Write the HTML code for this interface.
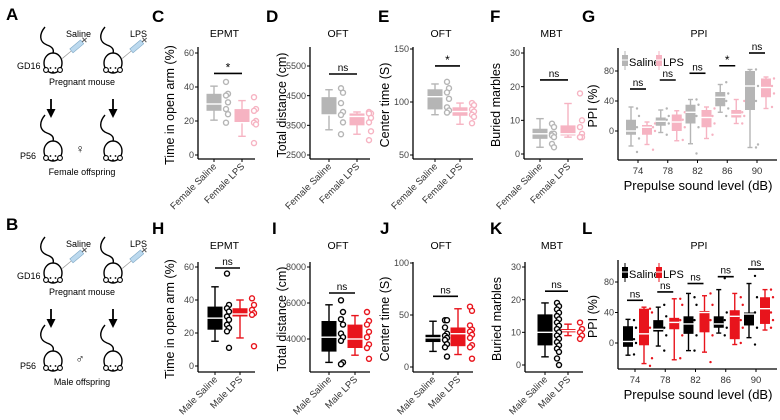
<!DOCTYPE html>
<html><head><meta charset="utf-8"><style>
body{margin:0;background:#fff;width:780px;height:420px;overflow:hidden}
svg{display:block;font-family:"Liberation Sans",sans-serif}
</style></head><body>
<svg id="fig" width="780" height="420" viewBox="0 0 780 420"></svg>
<script>
// ---- data arrays (stats = [min,q1,median,q3,max]) ----
const cSalStats=[20.5,26,30,36,40.5], cSalPts=[43,36,35,31,27,24,19];
const cLpsStats=[11,19,19,27,32], cLpsPts=[34,27,26,20,19,18,7];
const dSalStats=[3350,3850,3850,4450,4700], dSalPts=[4750,4600,4250,3950,3850,3600,3200];
const dLpsStats=[3200,3500,3800,3900,3950], dLpsPts=[3950,3900,3900,3750,3600,3300,3000];
const eSalStats=[88,93,105,112,117], eSalPts=[119,113,109,103,95,92,90];
const eLpsStats=[79,87,91,95,99], eLpsPts=[99,97,93,91,88,86,80];
const fSalStats=[2,4.5,6,7.5,10.5], fSalPts=[9,8,6,6,5.5,5,3,2];
const fLpsStats=[5,5.5,6,8.5,15], fLpsPts=[18,10,8,6,5,5,5];
const hSalStats=[15,22,29,36,48], hSalPts=[56,37,35,33,30,28,25,23,21,11];
const hLpsStats=[17,30,31.5,35,40], hLpsPts=[41,37,34,32,31,12];
const iSalStats=[2700,3300,4100,5000,5900], iSalPts=[6150,5500,5100,4800,4300,4100,3900,2700,2600];
const iLpsStats=[3100,3500,4000,4800,5300], iLpsPts=[5500,5000,4800,4400,4100,3700,3500,2900];
const jSalStats=[15,24,28,31,44], jSalPts=[45,45,38,32,30,28,26,22,19,10];
const jLpsStats=[12,20,32,38,56], jLpsPts=[58,54,40,36,34,31,28,21,19,8];
const kSalStats=[2.5,6,10,15.5,19], kSalPts=[19,18,17,16,15,14,13,12,11,10,9,8,7,6,5,4,2,0];
const kLpsStats=[9,10,10.5,11,12.5], kLpsPts=[13,11,10,9,8];
const pulseLevels=["74","78","82","86","90"];
const gSalStats=[[-20,-5,0,15,32],[-2,7,13,18,28],[-17,10,25,35,42],[25,33,45,52,62],[-22,28,60,80,82]];
const gLpsStats=[[-18,-5,5,8,12],[-13,0,12,22,27],[-10,5,18,28,32],[10,18,22,28,42],[30,45,58,70,72]];
const gSalPts=[[-28,-10,5,20,30],[-5,10,15,20,30],[-30,5,20,35,42],[20,30,40,50,65],[-22,-18,40,60,82]];
const gLpsPts=[[-25,0,5,10],[-12,5,15,25],[-5,10,20,30],[10,20,25,40],[32,50,60,70]];
const gSig=[56,68,77,87,104], gSigLbl=["ns","ns","ns","*","ns"];
const lSalStats=[[-16,-5,2,22,31],[-4,15,18,30,47],[-10,12,25,35,65],[13,20,25,35,70],[7,23,38,40,78]];
const lLpsStats=[[-27,-3,12,45,47],[-22,18,27,33,58],[-12,14,40,42,62],[-2,5,35,43,65],[17,25,45,60,70]];
const lSalPts=[[-15,0,5,20,30],[-10,10,20,35,50],[-10,10,30,50,60],[10,20,30,40,85],[-2,20,40,60,88]];
const lLpsPts=[[-30,-20,20,40,45],[-20,10,30,50,58],[-25,10,30,50,65],[0,20,30,50,60],[20,30,40,60,70]];
const lSig=[56,67,78,87,97], lSigLbl=["ns","ns","ns","ns","ns"];

const NS="http://www.w3.org/2000/svg", svg=document.getElementById('fig');
function el(t,a,p){const e=document.createElementNS(NS,t);for(const k in a)e.setAttribute(k,a[k]);(p||svg).appendChild(e);return e;}
function txt(s,a,p){const e=el('text',a,p);e.textContent=s;return e;}
function scale(p0,v0,p1,v1){return v=>p0+(v-v0)*(p1-p0)/(v1-v0);}

function box(g,cx,w,s,col,y,name){
  const b=el('g',{},g);
  
  
  el('line',{x1:cx,x2:cx,y1:y(s[0]),y2:y(s[4]),stroke:col,'stroke-width':1.4},b);
  el('line',{x1:cx-w/4,x2:cx+w/4,y1:y(s[0]),y2:y(s[0]),stroke:col,'stroke-width':1.4},b);
  el('line',{x1:cx-w/4,x2:cx+w/4,y1:y(s[4]),y2:y(s[4]),stroke:col,'stroke-width':1.4},b);
  el('rect',{x:cx-w/2,y:y(s[3]),width:w,height:Math.max(1.5,y(s[1])-y(s[3])),fill:col},b);
  el('line',{x1:cx-w/2,x2:cx+w/2,y1:y(s[2]),y2:y(s[2]),stroke:'#fff','stroke-width':1.4},b);
}
function pts(g,cx,arr,col,y,r,filled,name){
  arr.forEach((v,i)=>{const c=el('circle',{cx:cx+((i%2)?2:0),cy:y(v),r:r,fill:filled?col:'#fff',stroke:col,'stroke-width':filled?0:1.4},g);
    
    });
}
function axes(g,ax,right,bottom,top,ticks,y){
  el('line',{x1:ax,x2:ax,y1:top,y2:bottom,stroke:'#000','stroke-width':1.3},g);
  el('line',{x1:ax,x2:right,y1:bottom,y2:bottom,stroke:'#000','stroke-width':1.3},g);
  ticks.forEach(t=>{el('line',{x1:ax-3,x2:ax,y1:y(t),y2:y(t),stroke:'#000'},g);
    const l=txt(String(t),{x:ax-4,y:y(t)+3.2,'font-size':9,'text-anchor':'end',fill:'#444'},g);
    
    });
}
function sig(g,x1,x2,yy,lbl){
  el('line',{x1:x1,x2:x2,y1:yy,y2:yy,stroke:'#000','stroke-width':1.6},g);
  txt(lbl,{x:(x1+x2)/2,y:yy-(lbl=='*'?2:3),'font-size':lbl=='*'?12:10,'text-anchor':'middle'},g);
}
function twoPanel(c){
  const g=el('g',{});
  
  
  const y=scale(c.p0,c.v0,c.p1,c.v1);
  txt(c.letter,{x:c.lx,y:c.ly,'font-size':17,'font-weight':'bold'},g);
  txt(c.title,{x:(c.ax+c.right)/2-2,y:c.ly+15,'font-size':10.5,'text-anchor':'middle'},g);
  const yt=txt(c.ytitle,{x:0,y:0,'font-size':12.5,'text-anchor':'middle',transform:`translate(${c.ax-24},${(c.top+c.bottom)/2+2}) rotate(-90)`},g);
  
  
  axes(g,c.ax,c.right,c.bottom,c.top,c.ticks,y);
  box(g,c.x1,15,c.s1,c.c1,y,'box-saline');
  box(g,c.x2,15,c.s2,c.c2,y,'box-lps');
  pts(g,c.x1+12,c.p1s,c.c1,y,2.5,false,'point-saline');
  pts(g,c.x2+12,c.p2s,c.c2,y,2.5,false,'point-lps');
  [[c.x1,c.n1],[c.x2,c.n2]].forEach(([x,n])=>{
    el('line',{x1:x,x2:x,y1:c.bottom,y2:c.bottom+3,stroke:'#000'},g);
    const l=txt(n,{x:0,y:0,'font-size':9.5,'text-anchor':'end',fill:'#333',transform:`translate(${x+3},${c.bottom+8}) rotate(-45)`},g);
    
    
  });
  sig(g,c.x1,c.x2,y(c.sv),c.sl);
}
const FS='#b5b5b5',FL='#f6b3c2',MS='#000',ML='#e8141c';
const top1={bottom:159,top:47},bot1={bottom:372,top:262};
twoPanel({name:'panel-c',letter:'C',lx:152,ly:22,title:'EPMT',ytitle:'Time in open arm (%)',ax:198,right:255,...top1,p0:155,v0:0,p1:53,v1:60,ticks:[0,20,40,60],x1:214,x2:242,s1:cSalStats,s2:cLpsStats,p1s:cSalPts,p2s:cLpsPts,c1:FS,c2:FL,n1:'Female Saline',n2:'Female LPS',sv:48,sl:'*'});
twoPanel({name:'panel-d',letter:'D',lx:266,ly:22,title:'OFT',ytitle:'Total distance (cm)',ax:310,right:370,...top1,p0:155,v0:2500,p1:66,v1:5500,ticks:[2500,3500,4500,5500],x1:329,x2:357,s1:dSalStats,s2:dLpsStats,p1s:dSalPts,p2s:dLpsPts,c1:FS,c2:FL,n1:'Female Saline',n2:'Female LPS',sv:5230,sl:'ns'});
twoPanel({name:'panel-e',letter:'E',lx:378,ly:22,title:'OFT',ytitle:'Center time (S)',ax:413,right:473,...top1,p0:155,v0:50,p1:49,v1:150,ticks:[50,100,150],x1:435,x2:460,s1:eSalStats,s2:eLpsStats,p1s:eSalPts,p2s:eLpsPts,c1:FS,c2:FL,n1:'Female Saline',n2:'Female LPS',sv:134,sl:'*'});
twoPanel({name:'panel-f',letter:'F',lx:490,ly:22,title:'MBT',ytitle:'Buried marbles',ax:524,right:583,...top1,p0:154,v0:0,p1:53,v1:30,ticks:[0,10,20,30],x1:540,x2:568,s1:fSalStats,s2:fLpsStats,p1s:fSalPts,p2s:fLpsPts,c1:FS,c2:FL,n1:'Female Saline',n2:'Female LPS',sv:22,sl:'ns'});
twoPanel({name:'panel-h',letter:'H',lx:152,ly:234,title:'EPMT',ytitle:'Time in open arm (%)',ax:198,right:255,...bot1,p0:366,v0:0,p1:267,v1:60,ticks:[0,20,40,60],x1:215,x2:240,s1:hSalStats,s2:hLpsStats,p1s:hSalPts,p2s:hLpsPts,c1:MS,c2:ML,n1:'Male Saline',n2:'Male LPS',sv:59.4,sl:'ns'});
twoPanel({name:'panel-i',letter:'I',lx:272,ly:234,title:'OFT',ytitle:'Total distance (cm)',ax:310,right:370,...bot1,p0:339,v0:4000,p1:267,v1:8000,ticks:[4000,6000,8000],x1:329,x2:355,s1:iSalStats,s2:iLpsStats,p1s:iSalPts,p2s:iLpsPts,c1:MS,c2:ML,n1:'Male Saline',n2:'Male LPS',sv:6556,sl:'ns'});
twoPanel({name:'panel-j',letter:'J',lx:380,ly:234,title:'OFT',ytitle:'Center time (S)',ax:413,right:473,...bot1,p0:367,v0:0,p1:263,v1:100,ticks:[0,50,100],x1:433,x2:458,s1:jSalStats,s2:jLpsStats,p1s:jSalPts,p2s:jLpsPts,c1:MS,c2:ML,n1:'Male Saline',n2:'Male LPS',sv:68,sl:'ns'});
twoPanel({name:'panel-k',letter:'K',lx:490,ly:234,title:'MBT',ytitle:'Buried marbles',ax:525,right:583,...bot1,p0:365,v0:0,p1:267,v1:30,ticks:[0,10,20,30],x1:545,x2:568,s1:kSalStats,s2:kLpsStats,p1s:kSalPts,p2s:kLpsPts,c1:MS,c2:ML,n1:'Male Saline',n2:'Male LPS',sv:22.6,sl:'ns'});

function ppiPanel(c){
  const g=el('g',{});
  
  
  const y=scale(c.p0,0,c.p1,80);
  const xs=scale(c.x74,0,c.x90,4);
  txt(c.letter,{x:582,y:c.ly,'font-size':17,'font-weight':'bold'},g);
  txt('PPI',{x:699,y:c.ly+15,'font-size':10.5,'text-anchor':'middle'},g);
  const yt=txt('PPI (%)',{x:0,y:0,'font-size':12.5,'text-anchor':'middle',transform:`translate(${c.ax-21},${(c.top+c.bottom)/2+2}) rotate(-90)`},g);
  
  
  axes(g,c.ax,777,c.bottom,c.top,[0,40,80],y);
  pulseLevels.forEach((lv,i)=>{
    const x=xs(i);
    box(g,x-7,10,c.sS[i],c.cS,y,'box-saline-'+lv);
    box(g,x+9,10,c.lS[i],c.cL,y,'box-lps-'+lv);
    pts(g,x-1,c.sP[i],c.cS,y,1.2,true,'point-saline');
    pts(g,x+15,c.lP[i],c.cL,y,1.2,true,'point-lps');
    el('line',{x1:x,x2:x,y1:c.bottom,y2:c.bottom+3,stroke:'#000'},g);
    const l=txt(lv,{x:x,y:c.bottom+14,'font-size':9.5,'text-anchor':'middle',fill:'#333'},g);
    
    
    sig(g,x-8,x+8,y(c.sig[i]),c.sigL[i]);
  });
  const xt=txt('Prepulse sound level (dB)',{x:698,y:c.bottom+30,'font-size':13,'text-anchor':'middle'},g);
  
  
  const lg=el('g',{},g);
  
  
  [[625,'Saline',c.cS],[659,'LPS',c.cL]].forEach(([x,t,col])=>{
    el('line',{x1:x,x2:x,y1:c.ly+29,y2:c.ly+48,stroke:col,'stroke-width':1},lg);
    el('rect',{x:x-3,y:c.ly+33,width:6,height:11,fill:col},lg);
    el('line',{x1:x-3,x2:x+3,y1:c.ly+38,y2:c.ly+38,stroke:'#fff'},lg);
    txt(t,{x:x+4,y:c.ly+44,'font-size':11},lg);
  });
}
ppiPanel({name:'panel-g',letter:'G',ly:22,ax:618,top:48,bottom:160,p0:131,p1:71,x74:638,x90:757,sS:gSalStats,lS:gLpsStats,sP:gSalPts,lP:gLpsPts,sig:gSig,sigL:gSigLbl,cS:FS,cL:FL});
ppiPanel({name:'panel-l',letter:'L',ly:234,ax:618,top:260,bottom:369,p0:343,p1:282,x74:635,x90:756,sS:lSalStats,lS:lLpsStats,sP:lSalPts,lP:lLpsPts,sig:lSig,sigL:lSigLbl,cS:MS,cL:ML});

// ---- schematics A / B ----
function mouse(g,x,y){
  // tail from top curving into body
  el('path',{d:`M${x-8},${y-35} C${x-14},${y-28} ${x-14},${y-20} ${x-6},${y-17} C${x},${y-15} ${x+1},${y-12} ${x},${y-9}`,fill:'none',stroke:'#000','stroke-width':1.4},g);
  el('ellipse',{cx:x,cy:y+1,rx:9,ry:10,fill:'#fff',stroke:'#000','stroke-width':1.4},g);
  el('circle',{cx:x-7,cy:y+8,r:2.4,fill:'#fff',stroke:'#000','stroke-width':1.1},g);
  el('circle',{cx:x+7,cy:y+8,r:2.4,fill:'#fff',stroke:'#000','stroke-width':1.1},g);
  el('circle',{cx:x-2.5,cy:y+6,r:0.9},g);el('circle',{cx:x+2.5,cy:y+6,r:0.9},g);
  el('circle',{cx:x,cy:y+10,r:0.9},g);
}
function syringe(g,x,y){
  const s=el('g',{transform:`translate(${x},${y}) rotate(-40)`},g);
  el('line',{x1:-18,y1:0,x2:-6,y2:0,stroke:'#999','stroke-width':0.7},s);
  el('rect',{x:-6,y:-2.5,width:14,height:5,fill:'#bcd9ee',stroke:'#7fa9c7','stroke-width':0.6},s);
  el('line',{x1:8,y1:0,x2:14,y2:0,stroke:'#555','stroke-width':1},s);
  el('line',{x1:11,y1:-3,x2:11,y2:3,stroke:'#555','stroke-width':1},s);
}
function scheme(name,L,oy,sym,off){
  const g=el('g',{});
  
  
  txt(L,{x:6,y:oy+20,'font-size':17,'font-weight':'bold'},g);
  mouse(g,53,oy+62);mouse(g,113,oy+62);
  syringe(g,76,oy+47);syringe(g,136,oy+47);
  txt('Saline',{x:66,y:oy+37,'font-size':9},g);
  txt('LPS',{x:130,y:oy+37,'font-size':9},g);
  txt('GD16',{x:17,y:oy+69,'font-size':9},g);
  txt('Pregnant mouse',{x:82,y:oy+85,'font-size':9,'text-anchor':'middle'},g);
  [51,113].forEach(x=>{el('line',{x1:x,x2:x,y1:oy+99,y2:oy+110,stroke:'#000','stroke-width':1.8},g);
    el('path',{d:`M${x-4.5},${oy+109} L${x+4.5},${oy+109} L${x},${oy+118} Z`},g);});
  mouse(g,53,oy+150);mouse(g,113,oy+150);
  txt('P56',{x:20,y:oy+159,'font-size':9},g);
  txt(sym,{x:80,y:oy+153,'font-size':12,'text-anchor':'middle'},g);
  txt(off,{x:82,y:oy+175,'font-size':9,'text-anchor':'middle'},g);
}
scheme('schematic-a','A',0,'♀','Female offspring');
scheme('schematic-b','B',210,'♂','Male offspring');
</script>
</body></html>
